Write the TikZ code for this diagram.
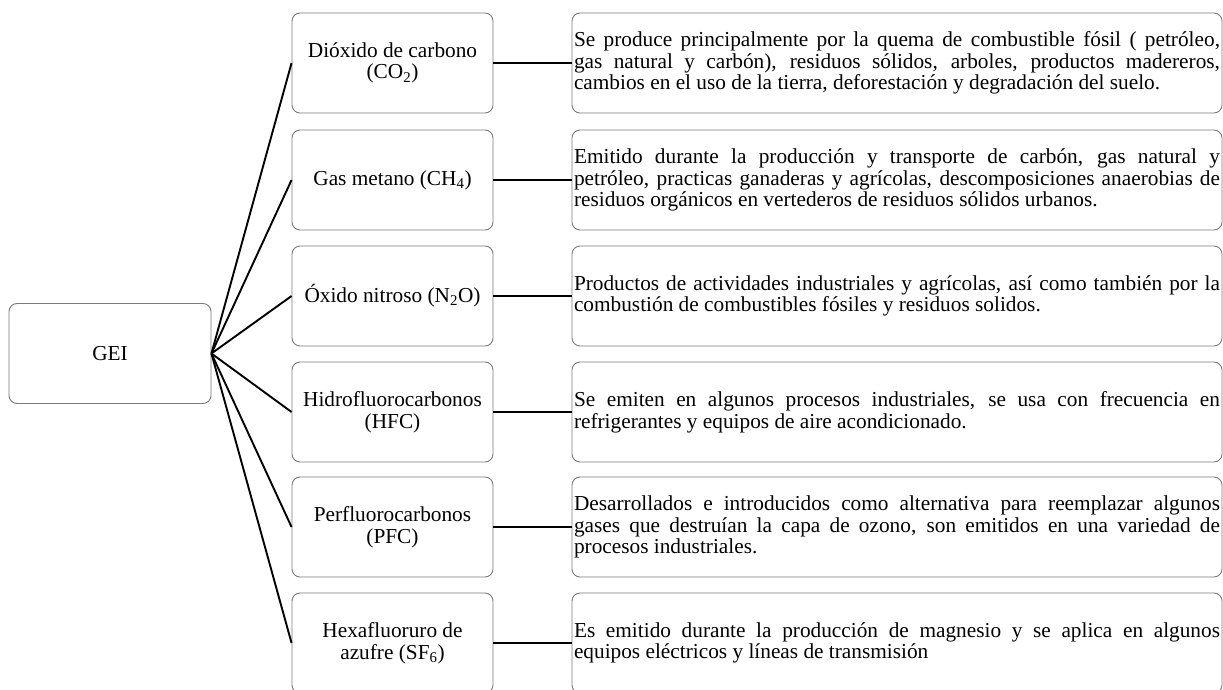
\documentclass[tikz,border=0pt]{standalone}
\usepackage{fontspec}
\setmainfont{Liberation Serif}
\definecolor{boxgray}{HTML}{7A7A7A}
\begin{document}
\begin{tikzpicture}[x=1pt,y=-1pt,
  box/.style={draw=boxgray, line width=0.9pt, rounded corners=8pt, minimum height=100pt, inner ysep=0pt,
    font=\fontsize{21.3pt}{21.6pt}\selectfont},
  mid/.style={box, minimum width=201pt, inner xsep=2pt, align=center},
  desc/.style={box, inner xsep=2pt, text width=646pt, align=justify},
  link/.style={line width=1.9pt, black}]
\useasboundingbox (0,0) rectangle (1223,690);
\node[box, minimum width=202pt] (gei) at (110,353.5) {GEI};

\node[mid] (m1) at (392.5,63)  {Dióxido de carbono\\(CO\textsubscript{2})};
\node[mid] (m2) at (392.5,180) {Gas metano (CH\textsubscript{4})};
\node[mid] (m3) at (392.5,296) {Óxido nitroso (N\textsubscript{2}O)};
\node[mid] (m4) at (392.5,412) {Hidrofluorocarbonos\\(HFC)};
\node[mid] (m5) at (392.5,527) {Perfluorocarbonos\\(PFC)};
\node[mid] (m6) at (392.5,643) {Hexafluoruro de\\azufre (SF\textsubscript{6})};

\node[desc] (d1) at (897,63) {Se produce principalmente por la quema de combustible fósil ( petróleo,\linebreak gas natural y carbón), residuos sólidos, arboles, productos madereros,\linebreak cambios en el uso de la tierra, deforestación y degradación del suelo.};
\node[desc] (d2) at (897,180) {Emitido durante la producción y transporte de carbón, gas natural y\linebreak petróleo, practicas ganaderas y agrícolas, descomposiciones anaerobias de\linebreak residuos orgánicos en vertederos de residuos sólidos urbanos.};
\node[desc] (d3) at (897,296) {Productos de actividades industriales y agrícolas, así como también por la\linebreak combustión de combustibles fósiles y residuos solidos.};
\node[desc] (d4) at (897,412) {Se emiten en algunos procesos industriales, se usa con frecuencia en\linebreak refrigerantes y equipos de aire acondicionado.};
\node[desc] (d5) at (897,527) {Desarrollados e introducidos como alternativa para reemplazar algunos\linebreak gases que destruían la capa de ozono, son emitidos en una variedad de\linebreak procesos industriales.};
\node[desc] (d6) at (897,643) {Es emitido durante la producción de magnesio y se aplica en algunos\linebreak equipos eléctricos y líneas de transmisión};

\foreach \i in {1,...,6}{
  \draw[link] (gei.east) -- (m\i.west);
  \draw[link] (m\i.east) -- (d\i.west);
}
\end{tikzpicture}
\end{document}
